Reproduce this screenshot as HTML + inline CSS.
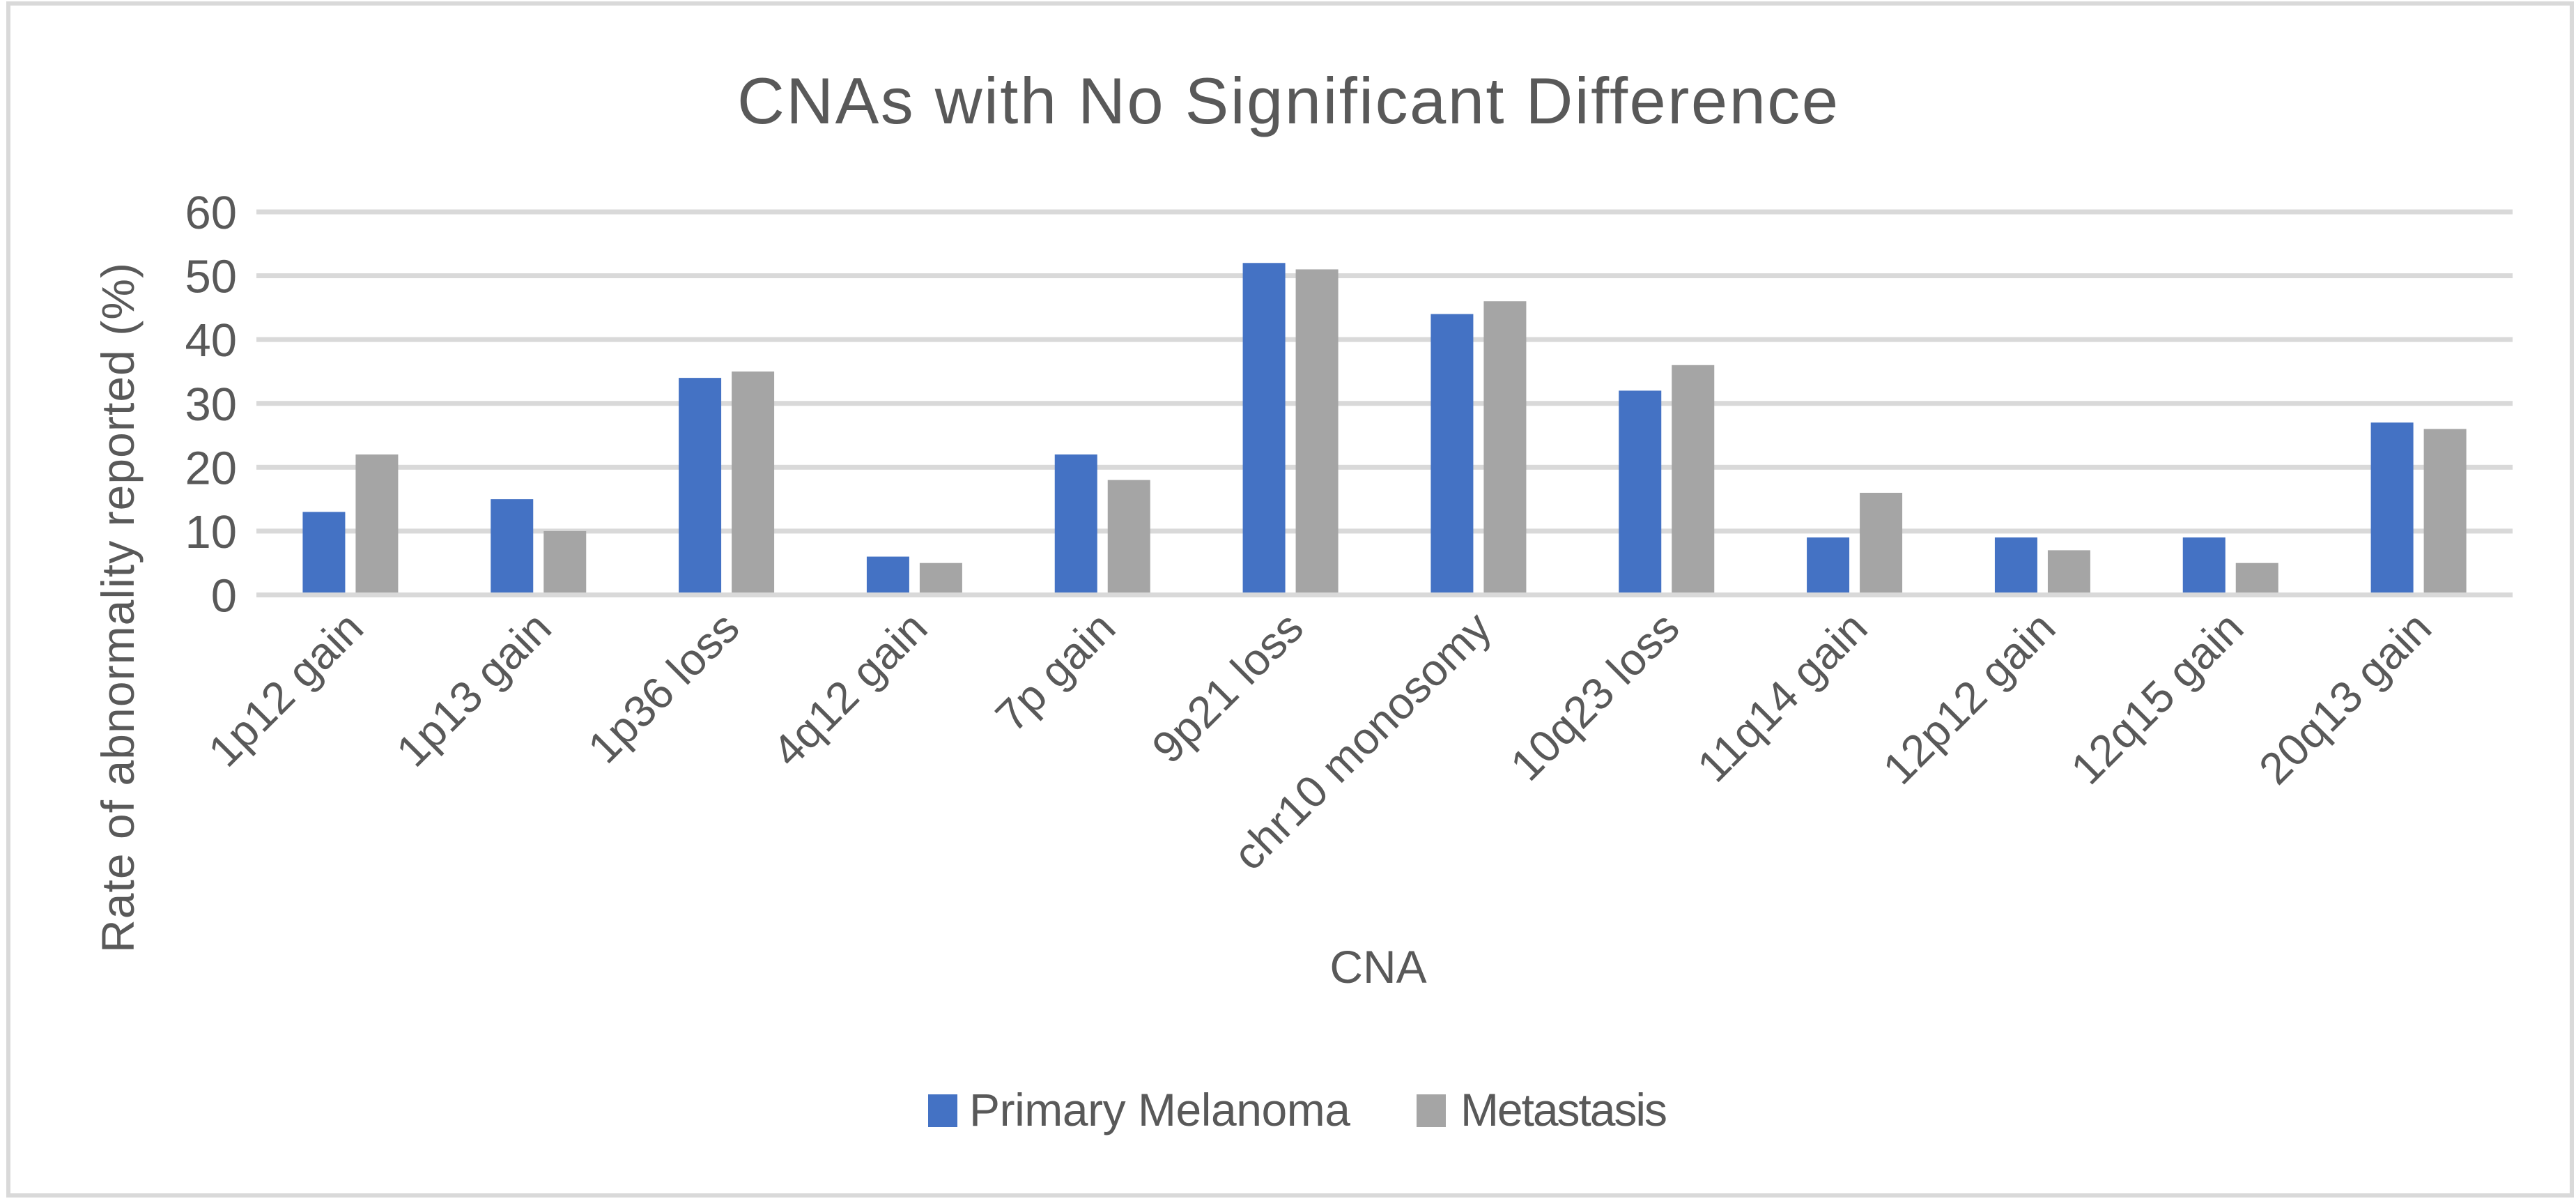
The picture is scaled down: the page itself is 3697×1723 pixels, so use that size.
<!DOCTYPE html>
<html><head><meta charset="utf-8"><style>
html,body{margin:0;padding:0;background:#fff;}
svg{display:block;font-family:"Liberation Sans",sans-serif;}
</style></head><body>
<svg id="chart" width="3697" height="1723" viewBox="0 0 3697 1723" xmlns="http://www.w3.org/2000/svg">
<rect x="0" y="0" width="3697" height="1723" fill="#fff"/>
<rect x="12" y="5" width="3679" height="1710" fill="none" stroke="#d9d9d9" stroke-width="6"/>
<text x="1848" y="177" text-anchor="middle" font-size="94" fill="#595959" textLength="1580">CNAs with No Significant Difference</text>
<g id="grid"></g><g id="bars"></g><g id="yticks"></g><g id="xlabels"></g>
<text transform="translate(192,872) rotate(-90)" text-anchor="middle" font-size="66" fill="#595959" textLength="990">Rate of abnormality reported (%)</text>
<text x="1978" y="1410" text-anchor="middle" font-size="66" fill="#595959">CNA</text>
<g>
<g>
<rect x="1332" y="1570" width="42" height="47" fill="#4472c4"/>
<text x="1391" y="1615" font-size="66" fill="#595959" textLength="547">Primary Melanoma</text>
</g>
<g>
<rect x="2033" y="1570" width="42" height="47" fill="#a5a5a5"/>
<text x="2096" y="1615" font-size="66" fill="#595959" textLength="297">Metastasis</text>
</g>
</g>
</svg>
<script>
const categories = ["1p12 gain","1p13 gain","1p36 loss","4q12 gain","7p gain","9p21 loss","chr10 monosomy","10q23 loss","11q14 gain","12p12 gain","12q15 gain","20q13 gain"];
const primaryValues = [13,15,34,6,22,52,44,32,9,9,9,27];
const metastasisValues = [22,10,35,5,18,51,46,36,16,7,5,26];
const yTicks = [0,10,20,30,40,50,60];

const NS = "http://www.w3.org/2000/svg";
const plotL = 368, plotR = 3606, y0px = 853.5, y60px = 304;
const yMax = 60;
function yScale(v){ return y0px - (v / yMax) * (y0px - y60px); }
const catW = (plotR - plotL) / categories.length;
function xCenter(i){ return plotL + catW * (i + 0.5); }
const barW = 61, gap = 15;

const grid = document.getElementById('grid');
const yt = document.getElementById('yticks');
yTicks.forEach(t => {
  const l = document.createElementNS(NS,'rect');
  l.setAttribute('x', plotL); l.setAttribute('y', yScale(t) - 3.5);
  l.setAttribute('width', plotR - plotL); l.setAttribute('height', 7);
  l.setAttribute('fill', '#d9d9d9');
  
  
  grid.appendChild(l);
  const tx = document.createElementNS(NS,'text');
  tx.setAttribute('x', 340); tx.setAttribute('y', yScale(t) + 24);
  tx.setAttribute('text-anchor', 'end'); tx.setAttribute('font-size', '67');
  tx.setAttribute('fill', '#595959');
  tx.textContent = t;
  
  
  yt.appendChild(tx);
});

const bars = document.getElementById('bars');
const xl = document.getElementById('xlabels');
categories.forEach((c, i) => {
  const cx = xCenter(i);
  const b1 = document.createElementNS(NS,'rect');
  b1.setAttribute('x', cx - gap/2 - barW); b1.setAttribute('y', yScale(primaryValues[i]));
  b1.setAttribute('width', barW); b1.setAttribute('height', y0px - 3.5 - yScale(primaryValues[i]));
  b1.setAttribute('fill', '#4472c4');
  
  
  bars.appendChild(b1);
  const b2 = document.createElementNS(NS,'rect');
  b2.setAttribute('x', cx + gap/2); b2.setAttribute('y', yScale(metastasisValues[i]));
  b2.setAttribute('width', barW); b2.setAttribute('height', y0px - 3.5 - yScale(metastasisValues[i]));
  b2.setAttribute('fill', '#a5a5a5');
  
  
  bars.appendChild(b2);
  const t = document.createElementNS(NS,'text');
  t.setAttribute('transform', 'translate(' + (cx + 22) + ',' + 905 + ') rotate(-45)');
  t.setAttribute('text-anchor', 'end'); t.setAttribute('font-size', '64');
  t.setAttribute('fill', '#595959');
  t.textContent = c;
  
  
  xl.appendChild(t);
});
</script>
</body></html>
